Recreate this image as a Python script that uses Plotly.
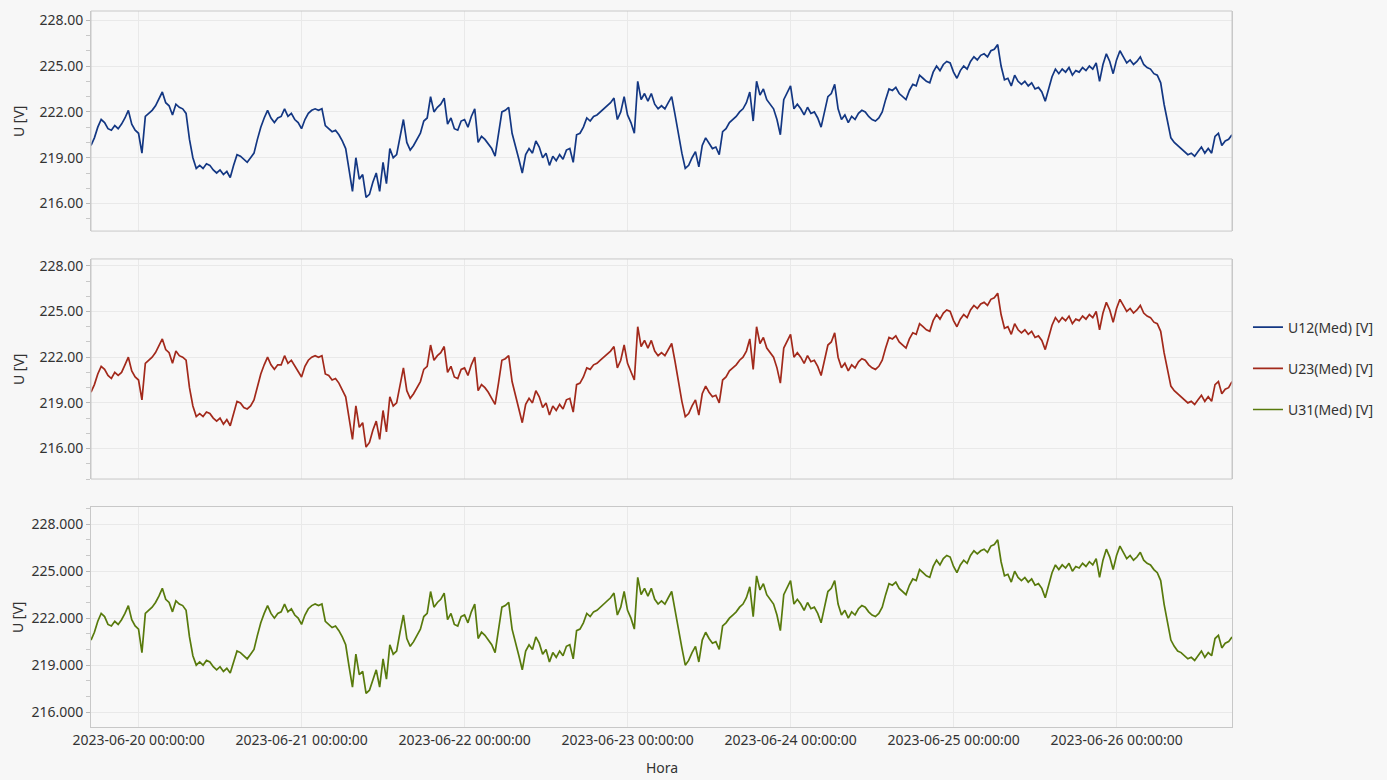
import pandas as pd
import plotly.graph_objects as go

# ---------------- data (30-minute medians) ----------------
start_time = "2023-06-19 17:00:00"
step = "30min"

u12 = [
    219.8, 220.3, 221.0, 221.5, 221.3, 220.9, 220.8, 221.1, 220.9, 221.2,
    221.6, 222.1, 221.2, 220.8, 220.6, 219.3, 221.7, 221.9, 222.1, 222.4,
    222.8, 223.3, 222.6, 222.4, 221.8, 222.5, 222.3, 222.2, 221.9, 220.2,
    219.0, 218.3, 218.5, 218.3, 218.6, 218.5, 218.2, 218.0, 218.2, 217.9,
    218.1, 217.7, 218.5, 219.2, 219.1, 218.9, 218.7, 219.0, 219.3, 220.2,
    221.0, 221.6, 222.1, 221.6, 221.3, 221.6, 221.7, 222.2, 221.7, 221.9,
    221.5, 221.3, 220.9, 221.5, 221.9, 222.1, 222.2, 222.1, 222.2, 221.1,
    220.9, 220.7, 220.8, 220.5, 220.1, 219.6, 218.2, 216.8, 219.0, 217.6,
    217.9, 216.4, 216.6, 217.4, 218.0, 216.8, 218.7, 217.3, 219.6, 219.0,
    219.2, 220.4, 221.5, 220.0, 219.5, 219.8, 220.2, 220.6, 221.4, 221.6,
    223.0, 222.0, 222.3, 222.5, 222.9, 221.2, 221.6, 220.9, 220.8, 221.4,
    221.5, 221.0, 221.7, 222.2, 220.0, 220.4, 220.2, 219.9, 219.6, 219.1,
    220.5, 222.0, 222.1, 222.3, 220.6, 219.8, 218.9, 218.0, 219.2, 219.6,
    219.3, 220.1, 219.7, 219.0, 219.3, 218.5, 219.1, 218.8, 219.2, 218.9,
    219.5, 219.6, 218.7, 220.5, 220.6, 221.0, 221.6, 221.4, 221.7, 221.8,
    222.0, 222.2, 222.4, 222.6, 222.9, 221.5, 222.0, 223.0, 221.8, 221.3,
    220.6, 224.0, 222.8, 223.2, 222.7, 223.2, 222.5, 222.2, 222.4, 222.2,
    222.6, 223.0, 221.8, 220.5, 219.3, 218.3, 218.5, 219.0, 219.4, 218.4,
    219.8, 220.3, 219.9, 219.6, 219.7, 219.2, 220.7, 220.9, 221.3, 221.5,
    221.7, 222.0, 222.2, 222.6, 223.3, 221.4, 224.0, 223.1, 223.5, 222.8,
    222.5, 222.2, 221.5, 220.5, 222.8, 223.3, 223.7, 222.2, 222.5, 222.2,
    221.8, 222.3, 221.9, 222.0, 221.6, 221.0, 222.0, 223.0, 223.2, 223.8,
    222.2, 221.5, 221.8, 221.3, 221.7, 221.5, 221.9, 222.1, 222.0, 221.7,
    221.5, 221.4, 221.6, 222.0, 222.8, 223.5, 223.4, 223.6, 223.2, 223.0,
    222.8, 223.4, 223.8, 223.7, 224.4, 224.2, 224.0, 223.9, 224.6, 225.0,
    224.7, 225.1, 225.3, 225.2, 224.6, 224.2, 224.7, 225.0, 224.8, 225.3,
    225.6, 225.4, 225.7, 225.8, 225.6, 226.0, 226.1, 226.4, 225.0, 224.1,
    224.2, 223.7, 224.4, 224.0, 223.8, 224.0, 223.7, 223.9, 223.5, 223.6,
    223.3, 222.7, 223.6, 224.3, 224.8, 224.5, 224.8, 224.6, 224.9, 224.4,
    224.7, 224.6, 224.9, 224.7, 225.0, 224.8, 225.2, 224.0, 225.1, 225.8,
    225.3, 224.5, 225.4, 226.0, 225.6, 225.2, 225.4, 225.1, 225.3, 225.6,
    225.1, 224.9, 224.8, 224.5, 224.4, 223.9, 222.5, 221.4, 220.3, 220.0,
    219.8, 219.6, 219.4, 219.2, 219.3, 219.1, 219.4, 219.7, 219.3, 219.6,
    219.3, 220.4, 220.6, 219.8, 220.1, 220.2, 220.5,
]

u23 = [
    219.7, 220.2, 220.9, 221.4, 221.2, 220.8, 220.6, 221.0, 220.8, 221.0,
    221.5, 222.0, 221.1, 220.7, 220.5, 219.2, 221.6, 221.8, 222.0, 222.3,
    222.7, 223.2, 222.5, 222.3, 221.6, 222.4, 222.1, 222.0, 221.8, 220.0,
    218.8, 218.1, 218.3, 218.1, 218.4, 218.3, 218.0, 217.8, 218.0, 217.6,
    217.9, 217.5, 218.3, 219.1, 219.0, 218.7, 218.6, 218.8, 219.2, 220.1,
    220.9, 221.5, 222.0, 221.5, 221.2, 221.5, 221.5, 222.1, 221.6, 221.8,
    221.4, 221.1, 220.7, 221.4, 221.8, 222.0, 222.1, 222.0, 222.1, 220.9,
    220.8, 220.5, 220.6, 220.3, 219.9, 219.4, 218.0, 216.6, 218.8, 217.4,
    217.7, 216.1, 216.4, 217.2, 217.8, 216.6, 218.5, 217.1, 219.4, 218.8,
    219.0, 220.2, 221.3, 219.8, 219.3, 219.6, 220.0, 220.4, 221.2, 221.4,
    222.8, 221.8, 222.1, 222.3, 222.7, 221.0, 221.4, 220.7, 220.6, 221.2,
    221.3, 220.8, 221.5, 222.0, 219.8, 220.2, 220.0, 219.7, 219.3, 218.9,
    220.3, 221.8, 221.9, 222.1, 220.4, 219.5, 218.6, 217.7, 218.9, 219.3,
    219.0, 219.8, 219.4, 218.7, 219.0, 218.2, 218.8, 218.5, 218.9, 218.6,
    219.2, 219.3, 218.4, 220.2, 220.3, 220.7, 221.3, 221.2, 221.5, 221.6,
    221.8, 222.0, 222.2, 222.4, 222.7, 221.3, 221.8, 222.8, 221.6, 221.1,
    220.5, 224.0, 222.7, 223.1, 222.6, 223.1, 222.4, 222.1, 222.3, 222.1,
    222.5, 222.9, 221.7, 220.3, 219.1, 218.1, 218.3, 218.8, 219.2, 218.2,
    219.6, 220.1, 219.7, 219.4, 219.5, 219.0, 220.5, 220.7, 221.1, 221.3,
    221.5, 221.8, 222.0, 222.4, 223.2, 221.2, 224.0, 222.9, 223.3, 222.6,
    222.3, 222.0, 221.3, 220.3, 222.6, 223.1, 223.5, 222.0, 222.3, 222.0,
    221.6, 222.1, 221.7, 221.8, 221.4, 220.8, 221.8, 222.8, 223.0, 223.6,
    222.0, 221.3, 221.6, 221.1, 221.5, 221.3, 221.7, 221.9, 221.8, 221.5,
    221.3, 221.2, 221.4, 221.8, 222.6, 223.3, 223.2, 223.4, 223.0, 222.8,
    222.6, 223.2, 223.6, 223.5, 224.2, 224.0, 223.8, 223.7, 224.4, 224.8,
    224.5, 224.9, 225.1, 225.0, 224.4, 224.0, 224.5, 224.8, 224.6, 225.1,
    225.4, 225.2, 225.5, 225.6, 225.4, 225.8, 225.9, 226.2, 224.8, 223.9,
    224.0, 223.5, 224.2, 223.8, 223.6, 223.8, 223.5, 223.7, 223.3, 223.4,
    223.1, 222.5, 223.4, 224.1, 224.6, 224.3, 224.6, 224.4, 224.7, 224.2,
    224.5, 224.4, 224.7, 224.5, 224.8, 224.6, 225.0, 223.8, 224.9, 225.6,
    225.1, 224.3, 225.2, 225.8, 225.4, 225.0, 225.2, 224.9, 225.1, 225.4,
    224.9, 224.7, 224.6, 224.3, 224.2, 223.7, 222.3, 221.2, 220.1, 219.8,
    219.6, 219.4, 219.2, 219.0, 219.1, 218.9, 219.2, 219.5, 219.1, 219.4,
    219.1, 220.2, 220.4, 219.6, 219.9, 220.0, 220.4,
]

u31 = [
    220.6, 221.1, 221.8, 222.3, 222.1, 221.6, 221.5, 221.8, 221.6, 221.9,
    222.3, 222.8, 221.9, 221.5, 221.3, 219.8, 222.3, 222.5, 222.7, 223.0,
    223.4, 223.9, 223.2, 223.0, 222.4, 223.1, 222.9, 222.8, 222.5, 220.8,
    219.6, 219.0, 219.2, 219.0, 219.3, 219.2, 218.9, 218.7, 218.9, 218.6,
    218.8, 218.5, 219.2, 219.9, 219.8, 219.6, 219.4, 219.7, 220.0, 220.9,
    221.7, 222.3, 222.8, 222.3, 222.0, 222.3, 222.4, 222.9, 222.4, 222.6,
    222.2, 222.0, 221.6, 222.2, 222.6, 222.8, 222.9, 222.8, 222.9, 221.8,
    221.6, 221.4, 221.5, 221.2, 220.8, 220.3, 218.9, 217.6, 219.7, 218.4,
    218.6, 217.2, 217.4, 218.1, 218.7, 217.6, 219.4, 218.1, 220.3, 219.7,
    219.9, 221.1, 222.2, 220.7, 220.2, 220.5, 220.9, 221.3, 222.1, 222.3,
    223.7, 222.7, 223.0, 223.2, 223.6, 221.9, 222.3, 221.6, 221.5, 222.1,
    222.2, 221.7, 222.4, 222.9, 220.7, 221.1, 220.9, 220.6, 220.3, 219.8,
    221.2, 222.7, 222.8, 223.0, 221.3, 220.5, 219.6, 218.7, 219.9, 220.3,
    220.0, 220.8, 220.4, 219.7, 220.0, 219.2, 219.8, 219.5, 219.9, 219.6,
    220.2, 220.3, 219.4, 221.2, 221.3, 221.7, 222.3, 222.1, 222.4, 222.5,
    222.7, 222.9, 223.1, 223.3, 223.6, 222.2, 222.7, 223.7, 222.5, 222.0,
    221.3, 224.6, 223.5, 223.9, 223.4, 223.9, 223.2, 222.9, 223.1, 222.9,
    223.3, 223.7, 222.5, 221.2, 220.1, 219.0, 219.3, 219.8, 220.2, 219.2,
    220.6, 221.1, 220.7, 220.4, 220.5, 220.0, 221.5, 221.7, 222.0, 222.2,
    222.4, 222.7, 222.9, 223.3, 224.0, 222.1, 224.7, 223.8, 224.2, 223.5,
    223.2, 222.9, 222.2, 221.2, 223.5, 224.0, 224.4, 222.9, 223.2, 222.9,
    222.5, 223.0, 222.6, 222.7, 222.3, 221.7, 222.7, 223.7, 223.9, 224.4,
    222.9, 222.2, 222.5, 222.0, 222.4, 222.2, 222.6, 222.8, 222.7, 222.4,
    222.2, 222.1, 222.3, 222.7, 223.5, 224.2, 224.1, 224.3, 223.9, 223.7,
    223.5, 224.1, 224.5, 224.4, 225.1, 224.9, 224.7, 224.6, 225.3, 225.7,
    225.4, 225.8, 226.0, 225.9, 225.3, 224.9, 225.4, 225.7, 225.5, 226.0,
    226.3, 226.1, 226.3, 226.4, 226.2, 226.6, 226.7, 227.0, 225.6, 224.7,
    224.8, 224.3, 225.0, 224.6, 224.4, 224.6, 224.3, 224.5, 224.1, 224.2,
    223.9, 223.3, 224.2, 224.9, 225.4, 225.1, 225.4, 225.2, 225.5, 225.0,
    225.3, 225.2, 225.5, 225.3, 225.6, 225.4, 225.8, 224.6, 225.7, 226.4,
    225.9, 225.1, 226.0, 226.6, 226.2, 225.8, 226.0, 225.7, 225.9, 226.2,
    225.7, 225.5, 225.4, 225.1, 224.9, 224.4, 222.9, 221.7, 220.6, 220.2,
    219.9, 219.8, 219.6, 219.4, 219.5, 219.3, 219.6, 219.9, 219.5, 219.8,
    219.6, 220.7, 220.9, 220.1, 220.4, 220.5, 220.8,
]

series_names = ["U12(Med) [V]", "U23(Med) [V]", "U31(Med) [V]"]
series_colors = ["#133783", "#a2291b", "#587a0c"]
y_ticks = [216, 219, 222, 225, 228]
x_tick_days = ["2023-06-20", "2023-06-21", "2023-06-22", "2023-06-23",
               "2023-06-24", "2023-06-25", "2023-06-26"]

# ---------------- figure ----------------
times = pd.date_range(start_time, periods=len(u12), freq=step)
values = [u12, u23, u31]

W, H = 1387, 780
L, R, T, B = 91, 1233, 8, 727          # plot area in pixels
panels_px = [(8, 229), (257, 478), (506, 727)]
y_ranges = [[214.2, 228.6], [214.0, 228.45], [215.05, 229.1]]
tick_formats = [".2f", ".2f", ".3f"]

fig = go.Figure()
font_family = "Noto Sans, Open Sans, DejaVu Sans, sans-serif"
txt_color = "#333333"
grid_color = "#e9e9e9"
border_color = "#c8c8c8"

def pfrac(ypx):
    return (B - ypx) / (B - T)

for i in range(3):
    yax = "y" if i == 0 else f"y{i+1}"
    fig.add_trace(go.Scatter(
        x=times, y=values[i], mode="lines", name=series_names[i],
        line=dict(color=series_colors[i], width=1.7),
        xaxis="x", yaxis=yax, legendgroup=f"g{i}",
    ))

layout = dict(
    width=W, height=H,
    paper_bgcolor="#f7f7f7", plot_bgcolor="#f8f8f8",
    margin=dict(l=L, r=W - R, t=T, b=H - B, pad=0),
    font=dict(family=font_family, size=14, color=txt_color),
    showlegend=True,
    legend=dict(
        x=1.014, xanchor="left", y=pfrac(367), yanchor="middle",
        bgcolor="rgba(0,0,0,0)", tracegroupgap=20,
        font=dict(size=14, color=txt_color),
    ),
)

x_common = dict(
    type="date", range=[times[0], times[-1]],
    tickvals=[pd.Timestamp(d) for d in x_tick_days],
    tickformat="%Y-%m-%d %H:%M:%S",
    showgrid=True, gridcolor=grid_color, gridwidth=1,
    showline=True, mirror=True, linecolor=border_color, linewidth=1,
    zeroline=False, ticks="",
)
layout["xaxis"] = dict(x_common, anchor="y3", domain=[0, 1], showticklabels=True,
                       tickfont=dict(size=14, color=txt_color))
for i in range(3):
    top_px, bot_px = panels_px[i]
    key = "yaxis" if i == 0 else f"yaxis{i+1}"
    layout[key] = dict(
        domain=[pfrac(bot_px), pfrac(top_px)],
        range=y_ranges[i], tickvals=y_ticks, tickformat=tick_formats[i],
        showgrid=True, gridcolor=grid_color, gridwidth=1,
        showline=True, mirror=True, linecolor=border_color, linewidth=1,
        zeroline=False, ticks="outside", ticklen=4, tickcolor="#b8b8b8",
        minor=dict(dtick=1, tick0=216, ticks="outside", ticklen=4,
                   tickcolor="#c8c8c8", showgrid=False),
        tickfont=dict(size=14, color=txt_color),
        anchor="x",
    )
fig.update_layout(**layout)

# frames of the upper panels
for i in range(2):
    fig.add_shape(type="rect", xref="paper", yref="paper",
                  x0=0, x1=1,
                  y0=pfrac(panels_px[i][1]), y1=pfrac(panels_px[i][0]),
                  line=dict(color=border_color, width=1), layer="above")

# axis titles
for i in range(3):
    top_px, bot_px = panels_px[i]
    fig.add_annotation(text="U [V]", xref="paper", yref="paper",
                       x=(18 - L) / (R - L), y=pfrac((top_px + bot_px) / 2),
                       textangle=-90, showarrow=False,
                       font=dict(size=14, color=txt_color),
                       xanchor="center", yanchor="middle")
fig.add_annotation(text="Hora", xref="paper", yref="paper",
                   x=(662 - L) / (R - L), y=pfrac(768),
                   showarrow=False, font=dict(size=14, color=txt_color),
                   xanchor="center", yanchor="middle")

fig.write_html(
    "out.html",
    config={"displayModeBar": False},
    post_script="document.body.style.margin='0px';document.body.style.overflow='hidden';",
)
